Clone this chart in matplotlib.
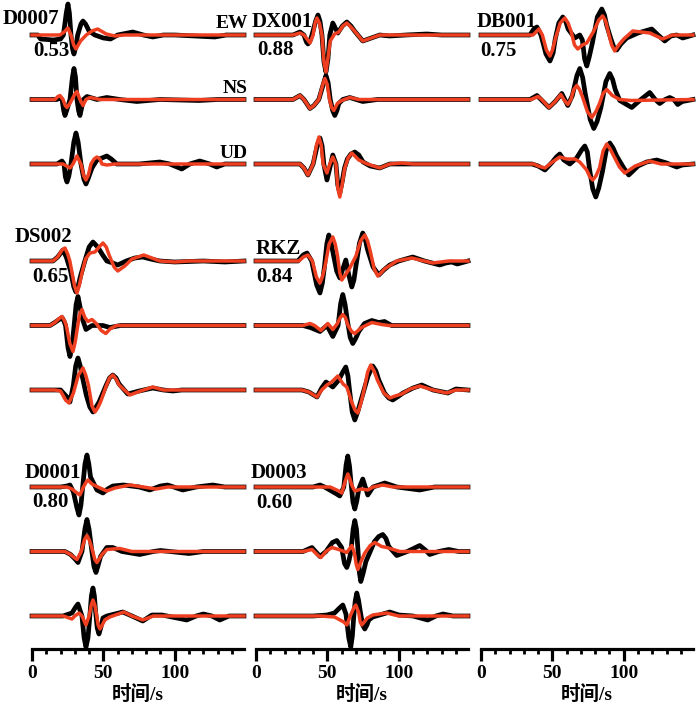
import matplotlib.pyplot as plt
from matplotlib.ticker import MultipleLocator

# 波形数据 (时间 s, 振幅)  OBS=观测(黑)  SYN=理论(红)
D0007_EW_OBS = [(0,0),(4,0),(6,-4),(15,-5),(20,-4),(22,0),(24,22),(25.2,31),(26.2,22),(27.3,0),(28.4,-14),(29.4,-19),(30.6,-12),(32,0),(34.3,11),(35.7,14),(37.5,11),(40,4),(44,0),(50,-3),(55,-4),(60,0),(70.6,3),(78,0),(84.6,-2),(92,0),(100,0),(128,-2),(136,0),(148.5,0)]
D0007_EW_SYN = [(0,0),(19.6,0),(22.5,3),(25.2,7),(27.3,0),(29.2,-10),(30.8,-14),(34,-6),(38,0),(42,4),(46,6),(52,1),(58,-1),(64,0),(148.5,0)]
D0007_NS_OBS = [(0,0),(17.5,0),(19.6,2),(21,0),(22.2,-11),(23.1,-16),(24.5,-10),(26.6,0),(28.3,22),(29.4,31),(30.5,22),(31.5,0),(32.6,-11),(33.6,-16),(34.8,-8),(36,0),(38.5,3),(45.5,0),(52.4,2),(61.5,0),(73.4,-2),(89.5,0),(117,-1),(130,0),(148.5,0)]
D0007_NS_SYN = [(0,0),(16,0),(18.2,3),(19.6,4),(21.7,0),(23.3,-6),(24.5,-8),(26.5,-4),(28,0),(30.3,6),(31.5,8),(33.6,0),(35.7,-6),(37.8,0),(40.6,2),(47.6,0),(148.5,0)]
D0007_UD_OBS = [(0,0),(17.5,0),(21,3),(22.4,0),(23.4,-13),(24.5,-18),(25.8,-12),(27.3,0),(29.3,22),(30.8,31),(32.3,22),(34.3,0),(36.3,-15),(37.8,-20),(39.5,-14),(42,-4),(45.5,4),(49,6),(52.4,8),(55.5,5),(59.4,0),(75,0),(89.5,2),(96.5,0),(104.9,-5),(110.5,0),(117.5,3),(124.5,0),(129.4,-3),(135,0),(148.5,0)]
D0007_UD_SYN = [(0,0),(21.7,0),(26.6,-4),(28.7,0),(31.5,8),(34.3,0),(36.3,-12),(37.8,-16),(39.5,-11),(41.3,0),(43.5,5),(45.5,7),(47.5,5),(49,0),(52.4,-1),(58,0),(148.5,0)]

DX001_EW_OBS = [(0,0),(25.9,0),(30.8,3),(33.6,0),(35.3,-7),(36.4,-9),(37.8,-6),(39.2,0),(41.8,14),(43.4,20),(44.8,14),(46.2,0),(47.6,-27),(49,-37),(50.4,-24),(51.7,0),(53.8,12),(57.3,2),(60.5,9),(63.6,13),(66.5,9),(69,4),(74.8,-6),(86.7,0),(93.7,-1),(105,0),(119.6,1),(130,0),(148.5,0)]
DX001_EW_SYN = [(0,0),(25.9,0),(30.8,2),(33.6,0),(37.8,-8),(40,0),(41.4,12),(42.7,17),(44.4,12),(46.2,0),(47.6,-27),(49,-37),(50.5,-22),(52,-6),(55,1),(58,3),(60.8,9),(63.6,12),(66.5,8),(69,4),(74.8,-6),(86.7,0),(148.5,0)]
DX001_NS_OBS = [(0,0),(25.9,0),(30.8,4),(33.6,0),(37.8,-9),(40.6,-6),(44,0),(47.5,17),(49,24),(50.5,17),(52,0),(53.7,-11),(55.2,-16),(56.7,-11),(58,-4),(60.8,0),(65.7,2),(74.8,-2),(85,0),(148.5,0)]
DX001_NS_SYN = [(0,0),(25.9,0),(30.8,4),(33.6,0),(37.8,-9),(40.6,-6),(44,0),(46.8,15),(48.3,21),(49.9,15),(51.5,0),(53,-8),(54.5,-11),(57,-4),(60.1,-1),(65.7,2),(72,0),(148.5,0)]
DX001_UD_OBS = [(0,0),(30.8,0),(33.6,-4),(36.4,-11),(40,0),(43,19),(44.8,26),(46.3,18),(47.5,0),(49.7,-16),(51.7,-4),(53.8,9),(56,0),(57.3,-21),(58.7,-29),(60.3,-18),(62,-4),(64,5),(66.5,10),(69.2,12),(72,9),(75,2),(80,-2),(86.7,-4),(93.7,0),(148.5,0)]
DX001_UD_SYN = [(0,0),(30.8,0),(33.6,-4),(36.4,-11),(40,0),(42.4,19),(44.1,27),(45.7,19),(47,0),(49.7,-9),(51.7,0),(53.8,7),(56,0),(57.3,-24),(58.7,-33),(60.3,-21),(62,-5),(64.5,6),(67.1,11),(72,4),(78,0),(86.7,-4),(93.7,0),(102,1),(110,0),(148.5,0)]

DB001_EW_OBS = [(0,0),(34.3,0),(37,6),(39.2,8),(42,0),(45.5,-19),(48.3,-26),(50.5,-18),(52,-4),(54.5,12),(57.3,18),(59.5,13),(61,6),(65.7,-3),(69.2,0),(71,-5),(72.6,-24),(74.1,-31),(75.8,-22),(78,-8),(81.5,18),(84.6,26),(86.5,20),(88,10),(91,-4),(93,-12),(95.1,-15),(98,-9),(102.1,-3),(110,2),(119.6,6),(124,0),(128.7,-6),(133,-1),(137.1,0),(141.3,-3),(148.5,0)]
DB001_EW_SYN = [(0,0),(36.4,0),(40.6,6),(43,0),(45.8,-15),(48.3,-21),(50.3,-14),(52,-4),(55.5,12),(58.7,17),(61,12),(63,4),(65.5,-10),(67.8,-14),(71,-10),(74.1,-8),(79,4),(82.5,15),(85.3,19),(87.3,14),(89,4),(91.5,-10),(93.7,-16),(96.5,-10),(100,-4),(106.3,4),(118.2,2),(127.3,-4),(134,0),(148.5,0)]
DB001_NS_OBS = [(0,0),(34.3,0),(39.2,4),(42,0),(47.6,-8),(52,-2),(56.6,6),(60.8,-6),(64,4),(67.2,24),(69.2,31),(71.2,22),(73,6),(76.5,-20),(79,-29),(81.3,-22),(84,-8),(87.5,18),(90.2,26),(92.2,20),(94,10),(97.2,-1),(105.6,-8),(112,0),(118.2,7),(122,0),(125.2,-4),(129,0),(132.2,2),(135,0),(137.8,-5),(141,-2),(148.5,0)]
DB001_NS_SYN = [(0,0),(35,0),(39.9,3),(42.5,0),(47.6,-8),(52,-2),(55.9,5),(58,0),(60.8,-5),(63,0),(65,10),(67.1,14),(69,10),(71,3),(74.5,-12),(77.6,-18),(80.5,-12),(83,-4),(85.5,6),(88.1,10),(92,4),(97.2,0),(105,-1),(148.5,0)]
DB001_UD_OBS = [(0,0),(35.7,0),(40,-2),(44.8,-6),(50,2),(52.8,7),(55.2,10),(58,4),(62.2,0),(67,6),(70.5,14),(72.7,18),(74.5,12),(76,-5),(78.3,-25),(80.4,-33),(82.5,-24),(85,-8),(87.8,14),(90.2,21),(92.5,16),(95,8),(100,-4),(103.5,-11),(110,-2),(116,2),(123.1,4),(130,1),(137.1,-3),(141,-1),(148.5,0)]
DB001_UD_SYN = [(0,0),(37,0),(40,-2),(44.8,-4),(50,2),(55.2,7),(60,5),(65.7,5),(69.2,2),(74,-6),(76.3,-13),(78.3,-16),(80.5,-12),(83,-4),(85.5,13),(88.1,20),(90.5,15),(93,8),(97,-3),(100.7,-9),(108,-2),(118.2,3),(126,0),(148.5,0)]

DS002_EW_OBS = [(0,0),(14.7,0),(18,4),(21.7,11),(24,4),(27,-10),(29.3,-26),(30.8,-31),(32.5,-24),(34,-15),(37,0),(40,14),(42.7,19),(46,14),(49.5,6),(52.4,0),(56.6,-2),(60.1,-4),(66,0),(72,3),(77.6,4),(83,2),(89.5,0),(100,-1),(120,0),(135,-1),(148.5,0)]
DS002_EW_SYN = [(0,0),(14.7,0),(18,4),(21,11),(23.1,13),(25,7),(26.5,0),(29.8,-25),(31.5,-32),(33.2,-24),(35,-12),(37.5,2),(40.6,8),(44.1,9),(47,14),(49.7,18),(52,14),(54,6),(57.5,-6),(60.1,-10),(65,-5),(70,2),(78.3,6),(84,3),(89.5,0),(100,-1),(110,0),(148.5,0)]
DS002_NS_OBS = [(0,0),(12.6,0),(16,3),(19,6),(21,8),(22.5,4),(23.5,0),(25.2,-22),(26.6,-31),(28.1,-20),(29.5,0),(30.9,21),(32.2,29),(33.6,19),(35,8),(37.8,-4),(42,0),(49.7,0),(54.5,-2),(62,0),(148.5,0)]
DS002_NS_SYN = [(0,0),(12.6,0),(16,3),(19,7),(21,9),(22.7,5),(24,0),(26.5,-18),(28.7,-26),(30.2,-17),(31.5,-5),(33.3,11),(35,16),(37,8),(39.2,4),(42,6),(45,2),(48.5,-5),(51.7,-8),(55,-3),(59.4,0),(148.5,0)]
DS002_UD_OBS = [(0,0),(14.7,0),(20,0),(24.5,-7),(26.6,-12),(29,5),(30.6,24),(32.2,32),(33.8,24),(35,15),(38,-5),(40.5,-17),(42.7,-22),(44.9,-17),(47,-12),(52,5),(54.3,12),(56.6,15),(58.9,12),(61,6),(67.1,-4),(75,-1),(84.6,2),(92,0),(98.6,-1),(105,0),(148.5,0)]
DS002_UD_SYN = [(0,0),(16,0),(20,-1),(23.5,-10),(25.9,-13),(29,-3),(32.5,15),(35.7,22),(37.6,15),(39.5,5),(42,-16),(44.1,-22),(46,-18),(48,-12),(52,4),(54.3,12),(56.6,15),(58.9,11),(61,5),(68.5,-5),(76,-1),(84.6,3),(92,0),(148.5,0)]

RKZ_EW_OBS = [(0,0),(29.4,0),(33,6),(35.7,8),(39,0),(42.5,-24),(44.8,-32),(46.5,-22),(48,-5),(49.6,17),(51,26),(52.5,19),(54,8),(56.5,-10),(58.7,-17),(60.8,-8),(62.9,1),(65,-14),(67.1,-26),(68.6,-19),(70,-5),(72.5,18),(74.8,28),(76.5,22),(78,12),(82,-6),(86,-14),(89.5,-9),(93.7,-4),(100,0),(109.8,4),(118,0),(128.7,-4),(133,-2),(137,-1),(141,-3),(148.5,0)]
RKZ_EW_SYN = [(0,0),(30,0),(33.2,4),(36.4,6),(39.5,0),(42.3,-16),(44.8,-22),(46.7,-15),(48.5,-4),(51.2,17),(53.8,24),(55.5,17),(57,6),(58.7,-12),(60.1,-19),(62.5,-14),(65.7,-7),(70,5),(73.2,20),(76.2,26),(78.2,20),(80,10),(82.8,-8),(85.3,-15),(87.5,-12),(90,-8),(98.6,0),(109.1,3),(118,0),(123.8,-2),(135,0),(148.5,0)]
RKZ_NS_OBS = [(0,0),(32.9,0),(38,-2),(44.8,-6),(49.7,0),(53.8,-11),(57.5,0),(59.3,22),(60.8,31),(62.4,21),(64,5),(66,-12),(67.8,-18),(69.8,-13),(72,-6),(76,2),(81.1,5),(86,3),(90,4),(95,0),(148.5,0)]
RKZ_NS_SYN = [(0,0),(32.9,0),(37.8,2),(41,0),(45.5,-5),(50.3,2),(53.8,-4),(57,2),(59,8),(60.8,11),(62.6,8),(64.5,0),(67,-6),(69.2,-8),(71.5,-5),(74,-2),(81.1,3),(88,1),(93,0),(148.5,0)]
RKZ_UD_OBS = [(0,0),(32.2,0),(37,-2),(42.7,-7),(46,2),(49,8),(53.8,3),(58,10),(60.8,18),(62.9,23),(64.4,14),(65.5,0),(67.4,-22),(69.2,-30),(71.2,-22),(74,-8),(78.5,14),(81.8,24),(84,19),(86,10),(90,-3),(93,-8),(95.8,-10),(99,-7),(103,-3),(110,2),(116.1,5),(124,0),(134.3,-3),(140,1),(148.5,0)]
RKZ_UD_SYN = [(0,0),(32.2,0),(37,-2),(42.7,-7),(46,0),(49.7,5),(53,8),(57.3,14),(61,6),(63.6,3),(67,-12),(69.3,-20),(71.3,-23),(73.5,-13),(76,2),(78.2,18),(80.4,25),(82.7,19),(85,10),(89.5,-3),(93.7,-8),(97.5,-6),(102,-4),(108,1),(114.7,4),(124,0),(133.6,-3),(140,0),(148.5,0)]

D0001_EW_OBS = [(0,0),(20,0),(24.5,1),(26.6,2),(29,-5),(31.5,-21),(32.9,-28),(34.3,-18),(35.5,0),(37.1,23),(38.5,32),(39.8,23),(41,10),(45.5,-3),(49.7,-6),(53,-2),(56.6,1),(64,2),(75,0),(82.5,-3),(90,1),(95,2),(105.6,-3),(115,0),(126.6,2),(135,0),(148.5,0)]
D0001_EW_SYN = [(0,0),(24.5,0),(28,-2),(31.5,-6),(33.6,-8),(36,0),(38,5),(39.2,7),(42,3),(47.6,-1),(52.4,-4),(58,-1),(68.5,2),(78,0),(87,-2),(95,0),(148.5,0)]
D0001_NS_OBS = [(0,0),(23.1,0),(27,-3),(30.5,-8),(32.2,-11),(35,0),(37.1,23),(38.5,32),(40,22),(41.5,5),(43.4,-15),(44.8,-21),(46.3,-14),(48,-5),(52.4,4),(56.6,4),(63,0),(75.5,-3),(85,0),(90,1),(110,-2),(120,0),(148.5,0)]
D0001_NS_SYN = [(0,0),(23.1,0),(27,-3),(29.5,-6),(31.5,-8),(34.5,0),(36.8,12),(38.5,16),(40.3,11),(42,3),(44,-8),(45.5,-11),(47.3,-7),(49,-3),(52.4,2),(61.5,3),(70,0),(148.5,0)]
D0001_UD_OBS = [(0,0),(21.7,0),(28,3),(30.6,9),(32.2,12),(35,0),(36.5,-22),(37.8,-31),(39.2,-22),(40.5,0),(41.6,20),(42.7,28),(43.7,20),(44.5,5),(45.7,-12),(46.9,-18),(48.3,-11),(49.7,-2),(52.4,0),(63.6,4),(70,0),(77.6,-5),(84,1),(91,1),(108.4,-4),(115,0),(120,2),(126,0),(131.5,-4),(138,0),(148.5,0)]
D0001_UD_SYN = [(0,0),(22,0),(28,-3),(30,0),(32.9,3),(35,0),(37.8,-9),(40,0),(41.5,11),(42.7,16),(44,11),(45,3),(46.3,-9),(47.6,-13),(49.2,-9),(51,-4),(54.5,-1),(64.3,4),(70,0),(77.6,-4),(85,0),(148.5,0)]

D0003_EW_OBS = [(0,0),(40,0),(44.8,2),(48,0),(56.5,-7),(58.7,-9),(61.5,0),(63.1,22),(64.3,31),(65.5,21),(66.5,5),(67.9,-15),(69.2,-22),(70.6,-14),(72,-2),(74.8,8),(78.3,-8),(82,0),(90.2,4),(98.6,0),(114.7,-3),(125,0),(148.5,0)]
D0003_EW_SYN = [(0,0),(45,0),(52,0),(58,-4),(60.1,-6),(62.5,6),(64.3,13),(65.8,8),(67,2),(69.2,-4),(74,-2),(78.3,-3),(82,0),(88.8,2),(96,0),(148.5,0)]
D0003_NS_OBS = [(0,0),(32.9,0),(39.2,4),(44.8,-5),(49,0),(53.5,9),(56.6,11),(60,4),(62,-12),(63.6,-16),(65,-10),(66.5,0),(68,22),(69.2,31),(70.4,22),(71.5,0),(72.4,-21),(73.4,-30),(75,-22),(77,-10),(83,10),(86,15),(88.8,17),(91,13),(93,5),(98.6,-4),(106,0),(114.7,6),(119,1),(121.7,-3),(128,0),(135,2),(142,0),(148.5,0)]
D0003_NS_SYN = [(0,0),(32.9,0),(39.2,2),(43.5,-4),(45.5,-6),(49,0),(53.1,4),(58,2),(63.6,-1),(67.1,6),(69,-2),(70.2,-13),(71.3,-18),(73,-12),(76,-2),(80,6),(83.2,9),(88,5),(91.6,4),(100.7,0),(148.5,0)]
D0003_UD_OBS = [(0,0),(40,0),(49.7,1),(55,3),(58.5,8),(60.8,11),(63,2),(65,-22),(66.4,-31),(67.5,-20),(68.5,0),(69.5,15),(70.6,23),(71.8,16),(73,5),(74.7,-9),(76.2,-13),(77.7,-9),(79,-4),(81.8,-1),(93.7,4),(100,1),(110,0),(120.3,-4),(126,0),(131,2),(138,0),(148.5,0)]
D0003_UD_SYN = [(0,0),(45,0),(55,-1),(61.5,-6),(63.6,-9),(66,0),(68.5,8),(69.9,11),(71,7),(72,3),(73,-6),(74.1,-9),(75.8,-6),(78,-2),(81.8,1),(91.6,3),(100,0),(148.5,0)]

stations = ['D0007', 'DX001', 'DB001', 'DS002', 'RKZ', 'D0001', 'D0003']
corr = ['0.53', '0.88', '0.75', '0.65', '0.84', '0.80', '0.60']
comps = ['EW', 'NS', 'UD']
xticks_major = [0, 50, 100]

traces = {
    'D0007': [(D0007_EW_OBS, D0007_EW_SYN), (D0007_NS_OBS, D0007_NS_SYN), (D0007_UD_OBS, D0007_UD_SYN)],
    'DX001': [(DX001_EW_OBS, DX001_EW_SYN), (DX001_NS_OBS, DX001_NS_SYN), (DX001_UD_OBS, DX001_UD_SYN)],
    'DB001': [(DB001_EW_OBS, DB001_EW_SYN), (DB001_NS_OBS, DB001_NS_SYN), (DB001_UD_OBS, DB001_UD_SYN)],
    'DS002': [(DS002_EW_OBS, DS002_EW_SYN), (DS002_NS_OBS, DS002_NS_SYN), (DS002_UD_OBS, DS002_UD_SYN)],
    'RKZ':   [(RKZ_EW_OBS, RKZ_EW_SYN), (RKZ_NS_OBS, RKZ_NS_SYN), (RKZ_UD_OBS, RKZ_UD_SYN)],
    'D0001': [(D0001_EW_OBS, D0001_EW_SYN), (D0001_NS_OBS, D0001_NS_SYN), (D0001_UD_OBS, D0001_UD_SYN)],
    'D0003': [(D0003_EW_OBS, D0003_EW_SYN), (D0003_NS_OBS, D0003_NS_SYN), (D0003_UD_OBS, D0003_UD_SYN)],
}

# 版面 (像素)
W, H = 700, 707
col_left = [32, 256, 481]
col_width = 212
axis_y = 649
group_top = [35, 261, 487]
comp_gap = [0, 64.5, 129]
st_col = [0, 1, 2, 0, 1, 0, 1]
st_row = [0, 0, 0, 1, 1, 2, 2]
name_pos = [(3, 19), (252, 22), (477, 22), (15, 237), (256, 249), (25, 473), (251, 473)]
corr_pos = [(33, 51), (257, 50), (480, 51), (32, 277), (256, 277), (32, 502), (256, 503)]

SERIF = ['Liberation Serif', 'DejaVu Serif']
CJK = ['Liberation Serif', 'Noto Sans CJK SC']
RED = '#ee4020'

fig = plt.figure(figsize=(W / 100, H / 100), dpi=100)
axes = []
for c in range(3):
    ax = fig.add_axes([col_left[c] / W, (H - axis_y) / H, col_width / W, axis_y / H])
    ax.set_xlim(0, 148.5)
    ax.set_ylim(-axis_y, 0)
    for s in ['left', 'right', 'top']:
        ax.spines[s].set_visible(False)
    ax.spines['bottom'].set_linewidth(2.3)
    ax.set_yticks([])
    ax.set_xticks(xticks_major)
    ax.xaxis.set_minor_locator(MultipleLocator(10))
    ax.tick_params(axis='x', which='major', direction='out', length=8.5, width=2.3, pad=3)
    ax.tick_params(axis='x', which='minor', direction='out', length=3.5, width=2.0)
    ax.set_xticklabels([str(v) for v in xticks_major], family=SERIF, fontweight='bold', fontsize=14)
    ax.set_xlabel('时间/s', family=CJK, fontweight='bold', fontsize=14, labelpad=2)
    ax.patch.set_alpha(0)
    axes.append(ax)

for i, st in enumerate(stations):
    ax = axes[st_col[i]]
    for k in range(3):
        base = group_top[st_row[i]] + comp_gap[k]
        obs, syn = traces[st][k]
        ax.plot([p[0] for p in obs], [p[1] - base for p in obs], color='black', lw=3.4,
                solid_joinstyle='round', clip_on=False, zorder=2)
        ax.plot([p[0] for p in syn], [p[1] - base for p in syn], color=RED, lw=2.5,
                solid_joinstyle='round', clip_on=False, zorder=3)
    fig.text(name_pos[i][0] / W, 1 - name_pos[i][1] / H, st, family=SERIF, fontweight='bold',
             fontsize=15, ha='left', va='center')
    fig.text(corr_pos[i][0] / W, 1 - corr_pos[i][1] / H, corr[i], family=SERIF, fontweight='bold',
             fontsize=15, ha='left', va='center')

# 分量标注
for k in range(3):
    fig.text(248 / W, 1 - (group_top[0] + comp_gap[k] - 11) / H, comps[k], family=SERIF,
             fontweight='bold', fontsize=14, ha='right', va='center')

fig.savefig('out.png', dpi=100)
